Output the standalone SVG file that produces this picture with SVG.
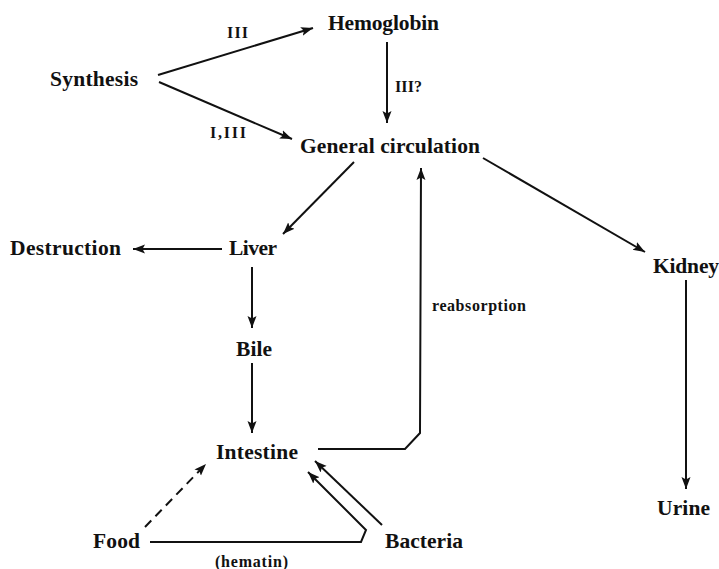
<svg xmlns="http://www.w3.org/2000/svg" width="719" height="569" viewBox="0 0 719 569">
<style>
.n{font-family:"Liberation Serif","Times New Roman",serif;font-weight:bold;font-size:21.5px;fill:#111}
.s{font-family:"Liberation Serif","Times New Roman",serif;font-weight:bold;font-size:16px;fill:#111}
.c{fill:none;stroke:#111;stroke-width:2}
</style>
<defs>
<marker id="ah" markerUnits="userSpaceOnUse" markerWidth="14" markerHeight="10" refX="12" refY="4.5" orient="auto">
<path d="M0,0 L12,4.5 L0,9 L2.5,4.5 z" fill="#111"/>
</marker>
</defs>
<rect width="719" height="569" fill="#fff"/>
<g id="connectors">
<line class="c" x1="158" y1="75" x2="313" y2="28" marker-end="url(#ah)"/>
<line class="c" x1="159" y1="82" x2="292" y2="139" marker-end="url(#ah)"/>
<line class="c" x1="387" y1="42" x2="387" y2="123" marker-end="url(#ah)"/>
<line class="c" x1="354" y1="162" x2="283" y2="234" marker-end="url(#ah)"/>
<line class="c" x1="483" y1="158" x2="645" y2="252" marker-end="url(#ah)"/>
<line class="c" x1="222" y1="249" x2="133" y2="249" marker-end="url(#ah)"/>
<line class="c" x1="252" y1="267" x2="252" y2="328" marker-end="url(#ah)"/>
<line class="c" x1="252" y1="363" x2="252" y2="433" marker-end="url(#ah)"/>
<polyline class="c" points="318,449 405,449 420,433 421,168" marker-end="url(#ah)"/>
<line class="c" x1="686" y1="280" x2="686" y2="489" marker-end="url(#ah)"/>
<line class="c" x1="145" y1="527" x2="206" y2="464" stroke-dasharray="9,6" marker-end="url(#ah)"/>
<polyline class="c" points="150,542 361,542 366,530 308,472" marker-end="url(#ah)"/>
<line class="c" x1="382" y1="525" x2="315" y2="461" marker-end="url(#ah)"/>
</g>
<g id="synthesis"><text class="n" x="50" y="86" textLength="88">Synthesis</text></g>
<g id="hemoglobin"><text class="n" x="328" y="30" textLength="111">Hemoglobin</text></g>
<g id="general-circulation"><text class="n" x="300" y="153" textLength="180">General circulation</text></g>
<g id="liver"><text class="n" x="229" y="255" textLength="48">Liver</text></g>
<g id="destruction"><text class="n" x="10" y="255" textLength="111">Destruction</text></g>
<g id="kidney"><text class="n" x="653" y="273" textLength="66">Kidney</text></g>
<g id="bile"><text class="n" x="236" y="356" textLength="36">Bile</text></g>
<g id="intestine"><text class="n" x="216" y="459" textLength="82">Intestine</text></g>
<g id="urine"><text class="n" x="657" y="515" textLength="53">Urine</text></g>
<g id="food"><text class="n" x="93" y="548" textLength="47">Food</text></g>
<g id="bacteria"><text class="n" x="385" y="548" textLength="78">Bacteria</text></g>
<g id="labels">
<text class="s" x="227" y="38" textLength="21">III</text>
<text class="s" x="210" y="138" textLength="36">I,III</text>
<text class="s" x="395" y="92" textLength="27">III?</text>
<text class="s" x="432" y="311" textLength="94">reabsorption</text>
<text class="s" x="215" y="567" textLength="73">(hematin)</text>
</g>
</svg>
